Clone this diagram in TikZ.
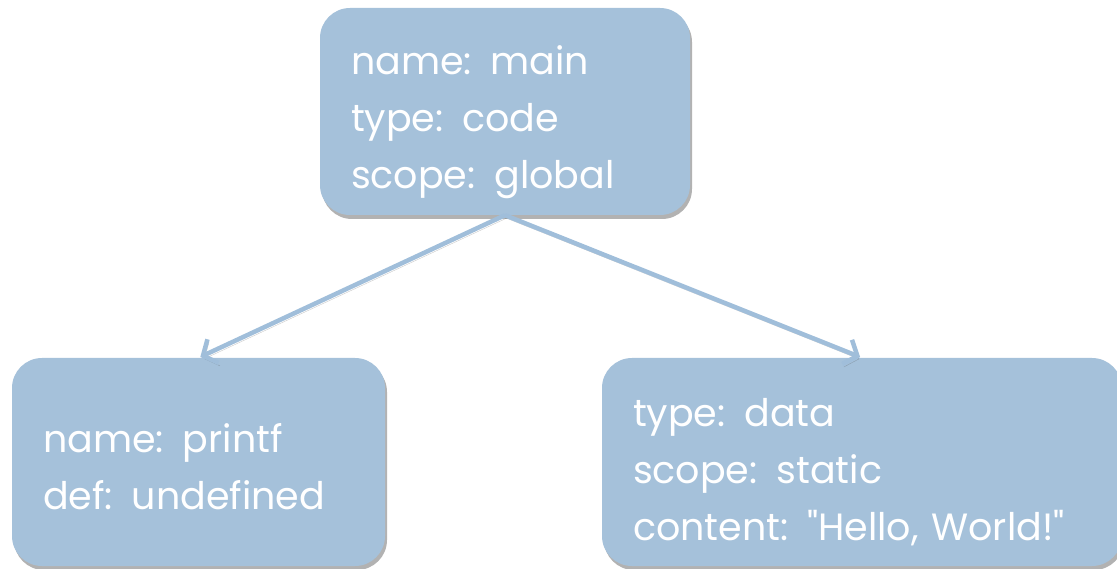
\documentclass[tikz,border=0pt]{standalone}
\usepackage{fontspec}
\setmainfont{Poppins}[Ligatures=TeXOff, WordSpace=0.7]
\usetikzlibrary{arrows.meta,shadows}
\definecolor{kutija}{HTML}{A5C1DA}
\definecolor{strelica}{HTML}{A0BEDA}
\begin{document}
\begin{tikzpicture}[x=1pt, y=-1pt,
  box/.style={rectangle, rounded corners=30pt, fill=kutija, text=white,
              align=left, inner xsep=31pt, inner ysep=0pt,
              drop shadow={shadow xshift=2pt, shadow yshift=-4pt, fill=black, opacity=0.3},
              font=\fontsize{38}{57}\selectfont},
  arr/.style={-{Straight Barb[length=11pt, width=26pt]}, line width=4.5pt, color=strelica,
              shorten >=2pt,
              preaction={draw=black!70, opacity=0.3, transform canvas={xshift=1.5pt, yshift=-3pt}}}
]
\useasboundingbox (0,0) rectangle (1117,569);

\node[box, text width=308pt, minimum height=207pt, text height=50pt] (main) at (505,111.5)
  {name: main\\type: code\\scope: global};
\node[box, text width=311pt, minimum height=208pt, text height=38pt] (printf) at (198.5,462)
  {name: printf\\def: undefined};
\node[box, text width=458pt, minimum height=208pt, text height=48pt] (hello) at (862,462)
  {type: data\\scope: static\\content: "Hello, World!"};

\draw[arr] (main.south) -- (printf.north);
\draw[arr] (main.south) -- (hello.north);
\end{tikzpicture}
\end{document}
